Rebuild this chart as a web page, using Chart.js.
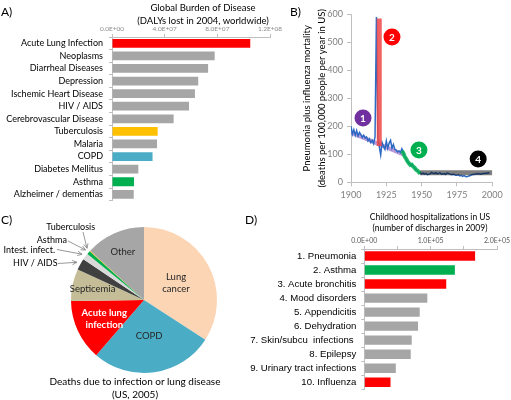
<!DOCTYPE html>
<html>
<head>
<meta charset="utf-8">
<script src="https://cdn.jsdelivr.net/npm/chart.js@4.4.1/dist/chart.umd.min.js"></script>
<style>
  body { margin: 0; background: #fff; }
  #wrap { position: relative; width: 511px; height: 400px; overflow: hidden; font-family: Lato, sans-serif; }
  canvas { position: absolute; }
  .txt { position: absolute; width: 240px; text-align: center; color: #000; white-space: nowrap; line-height: 12px; }
  .tag { position: absolute; font-size: 12px; color: #000; line-height: 14px; }
</style>
</head>
<body>
<div id="wrap">
  <canvas id="chartA" width="285" height="212" style="left:0;top:0"></canvas>
  <canvas id="chartB" width="226" height="206" style="left:285px;top:0"></canvas>
  <canvas id="chartC" width="240" height="185" style="left:0;top:215px"></canvas>
  <canvas id="chartD" width="271" height="190" style="left:240px;top:210px"></canvas>

  <div class="tag" style="left:1px;top:5px">A)</div>
  <div class="tag" style="left:290px;top:5px">B)</div>
  <div class="tag" style="left:1px;top:213px">C)</div>
  <div class="tag" style="left:245px;top:213px">D)</div>

  <div class="txt" style="left:83px;top:2px;font-size:9.5px">Global Burden of Disease</div>
  <div class="txt" style="left:83px;top:15px;font-size:9.5px">(DALYs lost in 2004, worldwide)</div>

  <div class="txt" style="left:15px;top:375px;font-size:10px">Deaths due to infection or lung disease</div>
  <div class="txt" style="left:15px;top:388px;font-size:10px">(US, 2005)</div>

  <div class="txt" style="left:310px;top:211px;font-size:8.5px">Childhood hospitalizations in US</div>
  <div class="txt" style="left:310px;top:222px;font-size:8.5px">(number of discharges in 2009)</div>
</div>

<script>
// A) global burden of disease
const burdenLabels = ["Acute Lung Infection", "Neoplasms", "Diarrheal Diseases", "Depression",
  "Ischemic Heart Disease", "HIV / AIDS", "Cerebrovascular Disease", "Tuberculosis", "Malaria",
  "COPD", "Diabetes Mellitus", "Asthma", "Alzheimer / dementias"];
const burdenValues = [1.05e8, 7.8e7, 7.3e7, 6.55e7, 6.3e7, 5.85e7, 4.68e7, 3.47e7, 3.42e7, 3.08e7, 2.0e7, 1.67e7, 1.65e7];
const burdenTicks = [0, 4e7, 8e7, 1.2e8];

// B) pneumonia + influenza mortality, US
const mortYears = [
  1900, 1901, 1902, 1903, 1904, 1905, 1906, 1907, 1908, 1909,
  1910, 1911, 1912, 1913, 1914, 1915, 1916, 1917, 1918, 1919,
  1920, 1921, 1922, 1923, 1924, 1925, 1926, 1927, 1928, 1929,
  1930, 1931, 1932, 1933, 1934, 1935, 1936, 1937, 1938, 1939,
  1940, 1941, 1942, 1943, 1944, 1945, 1946, 1947, 1948, 1949,
  1950, 1951, 1952, 1953, 1954, 1955, 1956, 1957, 1958, 1959,
  1960, 1961, 1962, 1963, 1964, 1965, 1966, 1967, 1968, 1969,
  1970, 1971, 1972, 1973, 1974, 1975, 1976, 1977, 1978, 1979,
  1980, 1981, 1982, 1983, 1984, 1985, 1986, 1987, 1988, 1989,
  1990, 1991, 1992, 1993, 1994, 1995, 1996, 1997, 1998];
const mortValues = [
  200, 172, 188, 168, 185, 165, 178, 170, 160, 168,
  158, 162, 148, 155, 142, 150, 138, 162, 590, 160,
  128, 98, 142, 128, 118, 148, 122, 140, 150, 122,
  135, 118, 114, 108, 112, 106, 120, 108, 92, 84,
  75, 68, 62, 66, 56, 52, 45, 42, 36, 31,
  30, 33, 29, 32, 27, 29, 30, 35, 32, 31,
  34, 30, 32, 34, 29, 30, 31, 28, 33, 32,
  29, 27, 29, 28, 25, 25, 27, 23, 25, 21,
  24, 21, 20, 22, 23, 26, 28, 28, 30, 30,
  31, 30, 29, 31, 31, 32, 32, 33, 34];
const trendYears = [1900, 1937];
const trendValues = [178, 100];
const pandemicYears = [1920, 1920];
const pandemicValues = [130, 585];
const declineYears = [1936, 1937, 1938, 1939, 1940, 1941, 1942, 1943, 1944, 1945, 1946, 1947, 1948, 1949];
const declineValues = [112, 105, 92, 84, 75, 68, 62, 63, 56, 52, 45, 42, 36, 31];
const plateauYears = [1949, 2000];
const plateauValues = [34, 34];
const markerLabels = ["1", "2", "3", "4"];
const markerYears = [1908.5, 1929, 1948.1, 1990];
const markerValues = [230, 519, 115, 83];
const markerColors = ["#7030a0", "#ff0000", "#00b050", "#000000"];

// C) deaths due to infection or lung disease (thousands)
const deathLabels = ["Lung cancer", "COPD", "Acute lung infection", "Septicemia", "HIV / AIDS",
  "Intest. infect.", "Asthma", "Tuberculosis", "Other"];
const deathValues = [163, 130, 64, 34, 12, 7, 3.8, 0.7, 63];
const deathColors = ["#fcd5b5", "#4bacc6", "#ff0000", "#c4bd97", "#404040", "#d9d9d9", "#00b050", "#ffc000", "#a6a6a6"];

// D) childhood hospitalizations
const hospLabels = ["1. Pneumonia", "2. Asthma", "3. Acute bronchitis", "4. Mood disorders",
  "5. Appendicitis", "6. Dehydration", "7. Skin/subcu  infections ", "8. Epilepsy",
  "9. Urinary tract infections", "10. Influenza"];
const hospValues = [1.67e5, 1.365e5, 1.235e5, 0.95e5, 0.835e5, 0.81e5, 0.715e5, 0.70e5, 0.475e5, 0.395e5];

const RED = "#ff0000", GREEN = "#00b050", GREY = "#a6a6a6";
const burdenColors = burdenLabels.map(function (l) {
  if (l === "Acute Lung Infection") return RED;
  if (l === "Tuberculosis") return "#ffc000";
  if (l === "COPD") return "#4bacc6";
  if (l === "Asthma") return GREEN;
  return GREY;
});
const hospColors = hospLabels.map(function (l) {
  if (l.includes("Pneumonia") || l.includes("bronchitis") || l.includes("Influenza")) return RED;
  if (l.includes("Asthma")) return GREEN;
  return GREY;
});

Chart.defaults.font.family = "Lato";
Chart.defaults.animation = false;
Chart.defaults.responsive = false;
Chart.defaults.devicePixelRatio = 1;
Chart.defaults.plugins.legend.display = false;
Chart.defaults.plugins.tooltip.enabled = false;

function sci(v) {
  if (v === 0) return "0.0E+00";
  let e = Math.floor(Math.log10(v) + 1e-9);
  let m = v / Math.pow(10, e);
  return m.toFixed(1) + "E+" + String(e).padStart(2, "0");
}

const AXIS = "#bfbfbf";

new Chart(document.getElementById("chartA"), {
  type: "bar",
  data: {
    labels: burdenLabels,
    datasets: [{ data: burdenValues, backgroundColor: burdenColors, barPercentage: 0.7, categoryPercentage: 1 }],
  },
  options: {
    indexAxis: "y",
    layout: { padding: { left: 0, right: 15, top: 0, bottom: 7 } },
    scales: {
      x: {
        position: "top", min: 0, max: 1.2e8,
        afterBuildTicks: (s) => { s.ticks = burdenTicks.map((v) => ({ value: v })); },
        ticks: { callback: sci, font: { size: 6.5 }, color: "#8c8c8c", padding: 1, maxRotation: 0, autoSkip: false },
        grid: { drawOnChartArea: false, tickLength: 3, color: AXIS },
        border: { color: AXIS },
        afterFit: (s) => { s.height = 37; },
      },
      y: {
        ticks: { font: { size: 9 }, color: "#000", padding: 6, autoSkip: false },
        grid: { drawOnChartArea: false, tickLength: 3, color: AXIS },
        border: { color: AXIS },
        afterFit: (s) => { s.width = 112; },
      },
    },
  },
});

function pts(xs, ys) {
  return xs.map((x, i) => ({ x: x, y: ys[i] }));
}

const markers = {
  id: "markers",
  afterDatasetsDraw(chart) {
    const ctx = chart.ctx, x = chart.scales.x, y = chart.scales.y;
    ctx.save();
    markerYears.forEach((yr, i) => {
      const px = x.getPixelForValue(yr), py = y.getPixelForValue(markerValues[i]);
      ctx.beginPath();
      ctx.arc(px, py, 8.5, 0, Math.PI * 2);
      ctx.fillStyle = markerColors[i];
      ctx.fill();
      ctx.fillStyle = "#fff";
      ctx.font = "bold 10px Lato";
      ctx.textAlign = "center";
      ctx.textBaseline = "middle";
      ctx.fillText(markerLabels[i], px, py + 0.5);
    });
    ctx.restore();
  },
};

new Chart(document.getElementById("chartB"), {
  type: "line",
  data: {
    datasets: [
      { data: pts(plateauYears, plateauValues), borderColor: "rgba(0,0,0,0.5)", borderWidth: 5, borderCapStyle: "butt" },
      { data: pts(declineYears, declineValues), borderColor: "rgba(0,176,80,0.85)", borderWidth: 4 },
      { data: pts(pandemicYears, pandemicValues), borderColor: "rgba(240,70,70,0.85)", borderWidth: 5, borderCapStyle: "butt" },
      { data: pts(mortYears, mortValues), borderColor: "#2e6ac4", borderWidth: 1.5 },
      { data: pts(trendYears, trendValues), borderColor: "rgba(150,100,200,0.65)", borderWidth: 4 },
    ],
  },
  options: {
    elements: { point: { radius: 0 }, line: { tension: 0 } },
    layout: { padding: { left: 0, right: 18.7, top: 14.3, bottom: 3.7 } },
    scales: {
      x: {
        type: "linear", min: 1900, max: 2000,
        ticks: { stepSize: 25, callback: (v) => String(v), font: { size: 9 }, color: "#7f7f7f", padding: 3, maxRotation: 0 },
        grid: { drawOnChartArea: false, tickLength: 4, color: AXIS },
        border: { color: AXIS },
        afterFit: (s) => { s.height = 20; },
      },
      y: {
        min: 0, max: 600,
        ticks: { stepSize: 100, font: { size: 9 }, color: "#7f7f7f", padding: 4 },
        grid: { drawOnChartArea: false, tickLength: 4, color: AXIS },
        border: { color: AXIS },
        title: {
          display: true,
          text: ["Pneumonia plus influenza mortality", "(deaths per 100,000 people per year in US)"],
          font: { size: 9.5, lineHeight: 1.55 },
          color: "#000",
          padding: { top: 14.6, bottom: 0 },
        },
        afterFit: (s) => { s.width = 66; },
      },
    },
  },
  plugins: [markers],
});

// label placement for the pie: inside labels and arrowed labels outside
const pieInside = {
  0: { k: 0.5, lines: ["Lung", "cancer"], font: "9.5px Lato", color: "#262626" },
  1: { k: 0.5, lines: ["COPD"], font: "9.5px Lato", color: "#262626" },
  2: { k: 0.6, lines: ["Acute lung", "infection"], font: "bold 9.5px Lato", color: "#fff" },
  3: { k: 0.72, lines: ["Septicemia"], font: "9.5px Lato", color: "#262626" },
  8: { k: 0.72, lines: ["Other"], font: "9.5px Lato", color: "#262626" },
};
const pieOutside = {
  4: { tx: 35.3, ty: 48.5, ax: 58, ay: 48.5 },
  5: { tx: 29.3, ty: 35, ax: 57, ay: 34.5 },
  6: { tx: 51.8, ty: 25, ax: 68, ay: 26 },
  7: { tx: 70.7, ty: 12, ax: 83, ay: 17 },
};

const pieText = {
  id: "pieText",
  afterDatasetsDraw(chart) {
    const ctx = chart.ctx;
    const arcs = chart.getDatasetMeta(0).data;
    ctx.save();
    ctx.textAlign = "center";
    ctx.textBaseline = "middle";
    arcs.forEach((arc, i) => {
      const p = arc.getProps(["x", "y", "startAngle", "endAngle", "outerRadius"], true);
      const mid = (p.startAngle + p.endAngle) / 2;
      const inn = pieInside[i];
      if (inn) {
        const r = p.outerRadius * inn.k;
        const cx = p.x + Math.cos(mid) * r, cy = p.y + Math.sin(mid) * r;
        ctx.font = inn.font;
        ctx.fillStyle = inn.color;
        inn.lines.forEach((t, j) => {
          ctx.fillText(t, cx, cy + (j - (inn.lines.length - 1) / 2) * 12);
        });
      }
      const out = pieOutside[i];
      if (out) {
        const r = p.outerRadius + 4;
        const tx = p.x + Math.cos(mid) * r, ty = p.y + Math.sin(mid) * r;
        ctx.font = "9px Lato";
        ctx.fillStyle = "#000";
        ctx.fillText(deathLabels[i], out.tx, out.ty);
        ctx.strokeStyle = "#7f7f7f";
        ctx.lineWidth = 0.8;
        ctx.beginPath();
        ctx.moveTo(out.ax, out.ay);
        ctx.lineTo(tx, ty);
        const ang = Math.atan2(ty - out.ay, tx - out.ax);
        ctx.moveTo(tx - Math.cos(ang - 0.45) * 5, ty - Math.sin(ang - 0.45) * 5);
        ctx.lineTo(tx, ty);
        ctx.lineTo(tx - Math.cos(ang + 0.45) * 5, ty - Math.sin(ang + 0.45) * 5);
        ctx.stroke();
      }
    });
    ctx.restore();
  },
};

new Chart(document.getElementById("chartC"), {
  type: "pie",
  data: {
    labels: deathLabels,
    datasets: [{ data: deathValues, backgroundColor: deathColors, borderWidth: 0 }],
  },
  options: {
    layout: { padding: { left: 71, right: 23, top: 12, bottom: 27 } },
  },
  plugins: [pieText],
});

new Chart(document.getElementById("chartD"), {
  type: "bar",
  data: {
    labels: hospLabels,
    datasets: [{ data: hospValues, backgroundColor: hospColors, barPercentage: 0.67, categoryPercentage: 1 }],
  },
  options: {
    indexAxis: "y",
    layout: { padding: { left: 0, right: 13.3, top: 0, bottom: 0.8 } },
    scales: {
      x: {
        position: "top", min: 0, max: 2e5,
        ticks: {
          stepSize: 5e4, maxRotation: 0, autoSkip: false,
          callback: (v) => (v % 1e5 === 0 ? sci(v) : ""),
          font: { size: 7 }, color: "#595959", padding: 1,
        },
        grid: { drawOnChartArea: false, tickLength: 3, color: AXIS },
        border: { color: AXIS },
        afterFit: (s) => { s.height = 39; },
      },
      y: {
        ticks: { font: { size: 9.6, family: "Liberation Sans" }, color: "#000", padding: 5, autoSkip: false },
        grid: { drawOnChartArea: false, tickLength: 3, color: AXIS },
        border: { color: AXIS },
        afterFit: (s) => { s.width = 124.3; },
      },
    },
  },
});
</script>
</body>
</html>
